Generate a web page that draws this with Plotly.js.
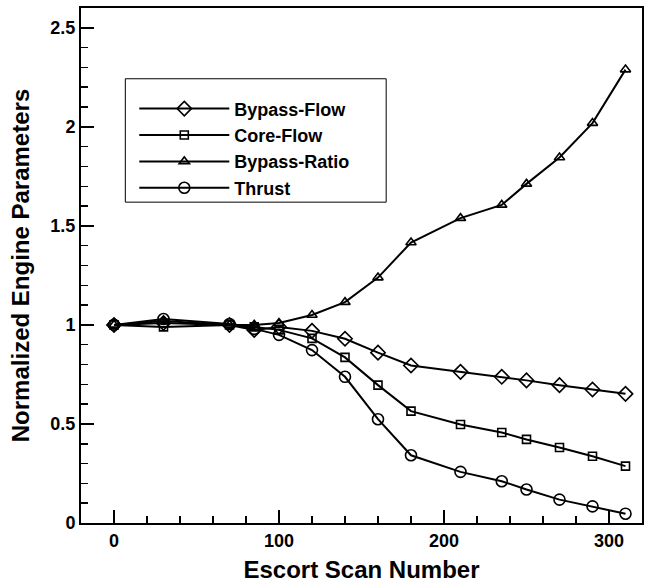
<!DOCTYPE html>
<html>
<head>
<meta charset="utf-8">
<script src="https://cdn.plot.ly/plotly-3.0.1.min.js"></script>
<style>
  html, body { margin: 0; padding: 0; background: #fff; }
  #chart { width: 645px; height: 583px; }
</style>
</head>
<body>
<div id="chart"></div>
<script>
// Escort scan numbers (x axis)
const scanNumber = [0, 30, 70, 85, 100, 120, 140, 160, 180, 210, 235, 250, 270, 290, 310];

// Normalized engine parameters per scan
const bypassFlow  = [1.0, 1.01, 1.0, 0.975, 0.99, 0.97, 0.93, 0.86, 0.795, 0.763, 0.738, 0.72, 0.696, 0.674, 0.652];
const coreFlow    = [1.0, 0.99, 1.0, 0.99, 0.975, 0.932, 0.836, 0.696, 0.565, 0.497, 0.457, 0.422, 0.381, 0.337, 0.287];
const bypassRatio = [1.0, 1.02, 1.0, 1.0, 1.01, 1.05, 1.115, 1.239, 1.416, 1.539, 1.606, 1.712, 1.845, 2.019, 2.289];
const thrust      = [1.0, 1.03, 1.005, 0.98, 0.95, 0.873, 0.738, 0.524, 0.342, 0.258, 0.211, 0.169, 0.118, 0.084, 0.047];

const seriesNames = ['Bypass-Flow', 'Core-Flow', 'Bypass-Ratio', 'Thrust'];
const xTickLabels = ['0', '100', '200', '300'];
const yTickLabels = ['0', '0.5', '1', '1.5', '2', '2.5'];

const FONT = 'Liberation Sans, Arial, Helvetica, sans-serif';

function series(name, y, symbol, size) {
  return {
    type: 'scatter',
    mode: 'lines+markers',
    name: name,
    x: scanNumber,
    y: y,
    line: { color: '#000', width: 2 },
    marker: { symbol: symbol, size: size, color: '#000', line: { color: '#000', width: 1.6 } }
  };
}

const traces = [
  series(seriesNames[0], bypassFlow, 'diamond-open', 11),
  series(seriesNames[1], coreFlow, 'square-open', 8),
  series(seriesNames[2], bypassRatio, 'triangle-up-open', 9),
  series(seriesNames[3], thrust, 'circle-open', 11)
];

const layout = {
  width: 645,
  height: 583,
  margin: { l: 81, r: 3, t: 8, b: 60 },
  paper_bgcolor: '#fff',
  plot_bgcolor: '#fff',
  font: { family: FONT, color: '#000' },
  showlegend: true,
  legend: {
    x: 0.095, y: 0.84, xanchor: 'left', yanchor: 'top',
    bgcolor: 'rgba(0,0,0,0)',
    borderwidth: 0,
    itemwidth: 90,
    font: { family: FONT, size: 18, color: '#000', weight: 'bold' },
    tracegroupgap: 0
  },
  xaxis: {
    range: [-20, 320],
    tickmode: 'array',
    tickvals: xTickLabels.map(Number),
    ticktext: xTickLabels,
    ticks: 'inside', ticklen: 13, tickwidth: 2, tickcolor: '#000',
    minor: { dtick: 20, ticks: 'inside', ticklen: 7, tickwidth: 1.5, tickcolor: '#000' },
    showgrid: false, zeroline: false,
    showline: true, linecolor: '#000', linewidth: 2, mirror: true,
    tickfont: { family: FONT, size: 18, color: '#000', weight: 'bold' },
    title: { text: 'Escort Scan Number', standoff: 13,
             font: { family: FONT, size: 24, color: '#000', weight: 'bold' } }
  },
  yaxis: {
    range: [0, 2.6],
    tickmode: 'array',
    tickvals: yTickLabels.map(Number),
    ticktext: yTickLabels,
    ticks: 'inside', ticklen: 13, tickwidth: 2, tickcolor: '#000',
    minor: { dtick: 0.1, ticks: 'inside', ticklen: 7, tickwidth: 1.5, tickcolor: '#000' },
    showgrid: false, zeroline: false,
    showline: true, linecolor: '#000', linewidth: 2, mirror: true,
    tickfont: { family: FONT, size: 18, color: '#000', weight: 'bold' },
    title: { text: 'Normalized Engine Parameters', standoff: 14,
             font: { family: FONT, size: 24, color: '#000', weight: 'bold' } }
  },
  shapes: [
    { type: 'rect', xref: 'paper', yref: 'paper',
      x0: 0.079, x1: 0.544, y0: 0.623, y1: 0.8626,
      line: { color: '#000', width: 1 }, fillcolor: 'rgba(0,0,0,0)' }
  ]
};

Plotly.newPlot('chart', traces, layout, { staticPlot: true, displayModeBar: false });
</script>
</body>
</html>
